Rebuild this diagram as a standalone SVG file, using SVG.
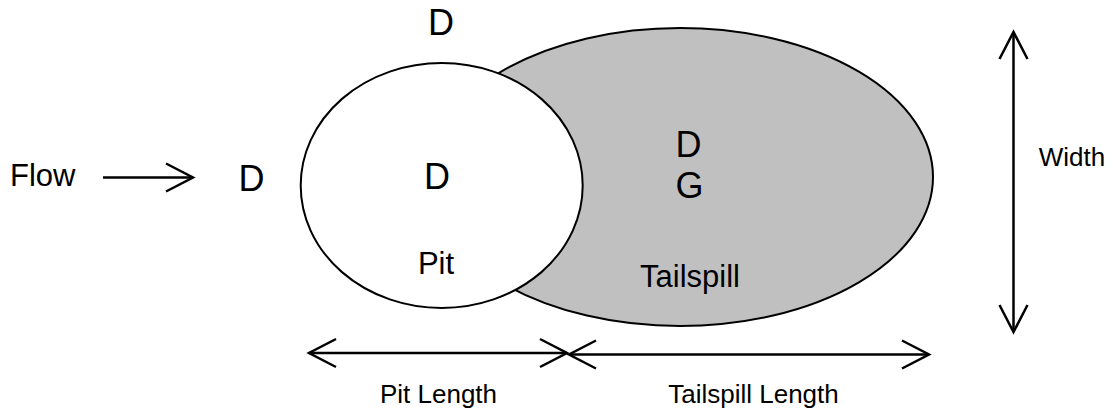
<svg xmlns="http://www.w3.org/2000/svg" width="1113" height="414" viewBox="0 0 1113 414">
<style>
  text { font-family: "Liberation Sans", Arial, sans-serif; fill: #000; text-anchor: middle; }
  .big { font-size: 36px; }
  .mid { font-size: 31px; }
  .small { font-size: 26px; }
  .shape { stroke: #000; stroke-width: 2; }
  .arrow { stroke: #000; stroke-width: 2.5; fill: none; marker-end: url(#head); marker-start: url(#head); }
</style>
<defs>
  <marker id="head" markerUnits="userSpaceOnUse" viewBox="-30 -17 33 34" refX="0" refY="0" markerWidth="33" markerHeight="34" orient="auto-start-reverse">
    <path d="M -27 -14 L 0 0 L -27 14" fill="none" stroke="#000" stroke-width="2.5"/>
  </marker>
</defs>
<rect width="1113" height="414" fill="#fff"/>
<g id="tailspill">
  <ellipse class="shape" cx="680" cy="177" rx="253" ry="149" fill="#C0C0C0"/>
  <text class="big" x="688.5" y="157">D</text>
  <text class="big" x="689.5" y="198">G</text>
  <text class="mid" x="690" y="287">Tailspill</text>
</g>
<g id="pit">
  <ellipse class="shape" cx="441.7" cy="185.5" rx="141" ry="122.5" fill="#fff"/>
  <text class="big" x="437" y="189">D</text>
  <text class="mid" x="436" y="274">Pit</text>
</g>
<g id="top-d"><text class="big" x="441" y="35">D</text></g>
<g id="flow-label"><text class="mid" x="10" y="186" style="text-anchor:start">Flow</text></g>
<g id="upstream-d"><text class="big" x="251.5" y="191">D</text></g>
<g id="width-label"><text class="small" x="1072" y="166">Width</text></g>
<g id="pit-length-label"><text class="small" x="438.5" y="403">Pit Length</text></g>
<g id="tailspill-length-label"><text class="small" x="753.5" y="403">Tailspill Length</text></g>
<g id="connectors">
  <line x1="103" y1="177.5" x2="193" y2="177.5" stroke="#000" stroke-width="2.5" marker-end="url(#head)"/>
  <line class="arrow" x1="309" y1="353" x2="567" y2="353"/>
  <line class="arrow" x1="569" y1="354.5" x2="929" y2="354.5"/>
  <line class="arrow" x1="1013.5" y1="32" x2="1013.5" y2="332"/>
</g>
</svg>
